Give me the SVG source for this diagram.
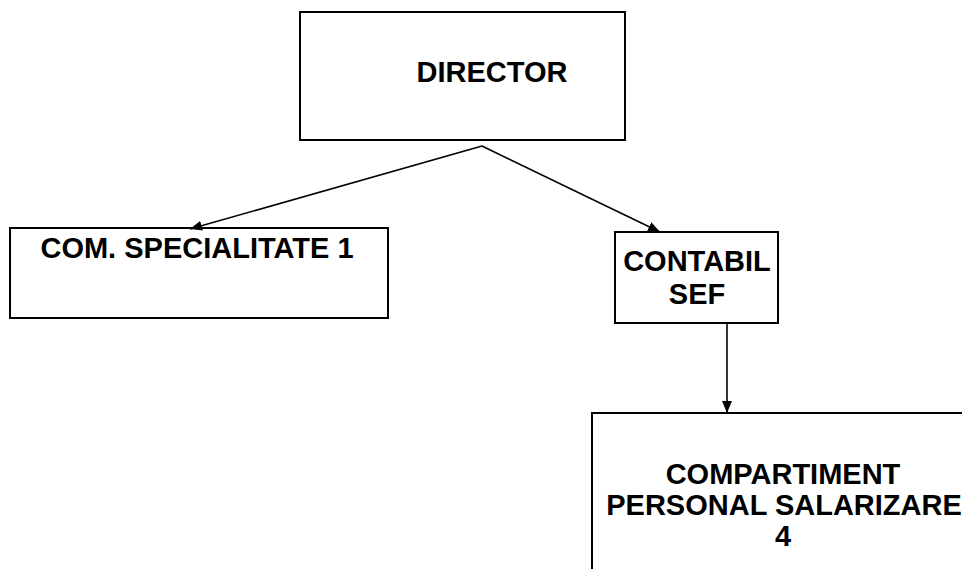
<svg xmlns="http://www.w3.org/2000/svg" width="962" height="569" viewBox="0 0 962 569">
<style>
.box{fill:#fff;stroke:#000;stroke-width:2}
.t{font-family:"Liberation Sans",Arial,sans-serif;font-weight:bold;font-size:29px;fill:#000;text-anchor:middle}
.c{stroke:#000;stroke-width:1.6;fill:none;marker-end:url(#ah)}
</style>
<defs>
<marker id="ah" viewBox="0 0 12 10" refX="12" refY="5" markerWidth="12" markerHeight="10" markerUnits="userSpaceOnUse" orient="auto">
<path d="M0,0 L12,5 L0,10 Z" fill="#000"/>
</marker>
</defs>
<rect width="962" height="569" fill="#fff"/>
<g id="director">
<rect class="box" x="300" y="12" width="325" height="128"/>
<text class="t" x="492" y="82">DIRECTOR</text>
</g>
<g id="com-specialitate">
<rect class="box" x="10" y="228" width="378" height="90"/>
<text class="t" x="197" y="258">COM. SPECIALITATE 1</text>
</g>
<g id="contabil-sef">
<rect class="box" x="615" y="232" width="163" height="91"/>
<text class="t" x="697" y="271">CONTABIL</text>
<text class="t" x="697" y="304">SEF</text>
</g>
<g id="compartiment">
<rect class="box" x="592" y="413" width="400" height="200"/>
<text class="t" x="783" y="484">COMPARTIMENT</text>
<text class="t" x="784" y="515">PERSONAL SALARIZARE</text>
<text class="t" x="783" y="546">4</text>
</g>
<g id="connectors">
<path class="c" d="M482,146 L190,229"/>
<path class="c" d="M482,146 L660,232"/>
<path class="c" d="M727,323 L727,413"/>
</g>
</svg>
